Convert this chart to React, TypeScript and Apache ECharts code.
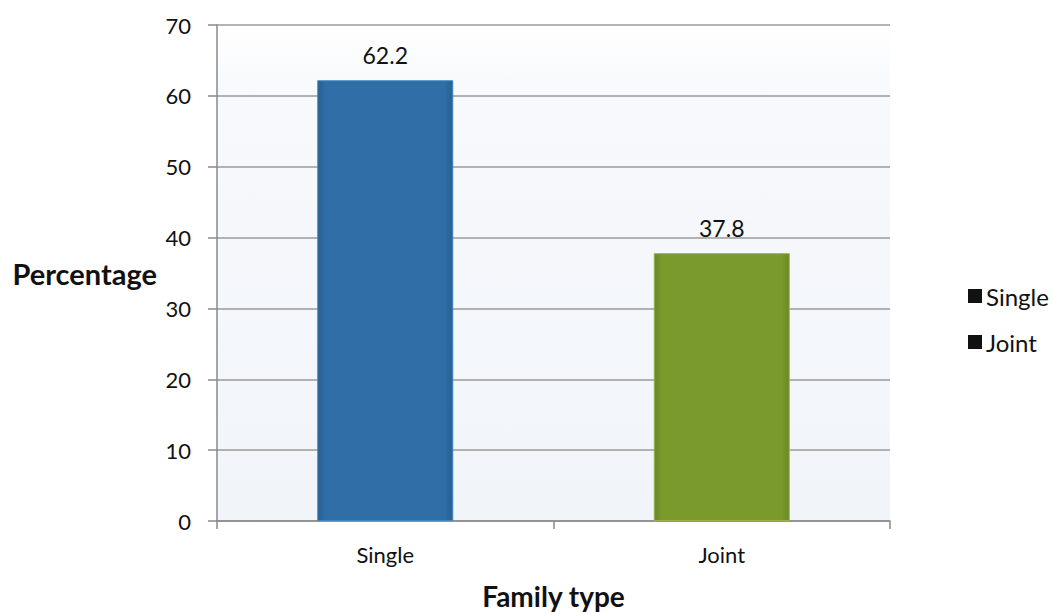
import React, { useEffect, useRef } from "react";
import * as echarts from "echarts";

const categories = ["Single", "Joint"];
const seriesNames = ["Single", "Joint"];
const singleValues: (number | string)[] = [62.2, "-"];
const jointValues: (number | string)[] = ["-", 37.8];
const yTicks = { min: 0, max: 70, interval: 10 };

const FONT = "Lato, 'Open Sans', sans-serif";

export default function App() {
  const ref = useRef<HTMLDivElement>(null);

  useEffect(() => {
    if (!ref.current) return;
    const chart = echarts.init(ref.current, null, { renderer: "svg" });

    const barStyle = (top: string, mid: string, edge: string) => ({
      color: new echarts.graphic.LinearGradient(0, 0, 1, 0, [
        { offset: 0, color: edge },
        { offset: 0.06, color: mid },
        { offset: 0.94, color: mid },
        { offset: 1, color: edge },
      ]),
      borderColor: top,
      borderWidth: 1,
    });

    const dataLabel = {
      show: true,
      position: "top",
      distance: 14,
      fontFamily: FONT,
      fontSize: 23,
      color: "#111",
    };

    chart.setOption({
      animation: false,
      backgroundColor: "#ffffff",
      textStyle: { fontFamily: FONT },
      grid: {
        left: 217,
        right: 164,
        top: 25,
        bottom: 91,
        containLabel: false,
        outerBoundsMode: "none",
        show: true,
        borderWidth: 0,
        backgroundColor: new echarts.graphic.LinearGradient(0, 0, 0, 1, [
          { offset: 0, color: "#ffffff" },
          { offset: 0.14, color: "#f7f9fc" },
          { offset: 1, color: "#f1f5fa" },
        ]),
      },
      legend: {
        orient: "vertical",
        left: 963,
        top: 279,
        itemWidth: 14,
        itemHeight: 14,
        itemGap: 22,
        icon: "rect",
        data: seriesNames.map((n) => ({ name: n, itemStyle: { color: "#111111", borderWidth: 0 } })),
        textStyle: { fontFamily: FONT, fontSize: 24, color: "#111", padding: [0, 0, 0, -1] },
      },
      xAxis: {
        type: "category",
        data: categories,
        name: "Family type",
        nameLocation: "middle",
        nameGap: 61,
        nameTextStyle: { fontFamily: FONT, fontSize: 28, fontWeight: "bold", color: "#111" },
        axisLine: { lineStyle: { color: "#8a8a8a", width: 1.5 } },
        axisTick: { show: true, length: 8, lineStyle: { color: "#8a8a8a", width: 1.5 } },
        axisLabel: { fontFamily: FONT, fontSize: 22, color: "#111", margin: 22 },
      },
      yAxis: {
        type: "value",
        min: yTicks.min,
        max: yTicks.max,
        interval: yTicks.interval,
        name: "Percentage",
        nameLocation: "middle",
        nameRotate: 0,
        nameGap: 60,
        nameTextStyle: { fontFamily: FONT, fontSize: 29, fontWeight: "bold", color: "#111" },
        axisLine: { show: true, lineStyle: { color: "#8a8a8a", width: 1.5 } },
        axisTick: { show: true, length: 9, lineStyle: { color: "#8a8a8a", width: 1.5 } },
        axisLabel: { fontFamily: FONT, fontSize: 22, color: "#111", margin: 26 },
        splitLine: { lineStyle: { color: "#9a9a9a", width: 1.5 } },
      },
      series: [
        {
          name: seriesNames[0],
          type: "bar",
          data: singleValues,
          barWidth: 136,
          barGap: "-100%",
          itemStyle: barStyle("#3f86c2", "#2f6ea6", "#285f90"),
          label: dataLabel,
        },
        {
          name: seriesNames[1],
          type: "bar",
          data: jointValues,
          barWidth: 136,
          barGap: "-100%",
          itemStyle: barStyle("#97b545", "#7a9a2c", "#6a8824"),
          label: dataLabel,
        },
      ],
    });

    return () => chart.dispose();
  }, []);

  return (
    <div
      ref={ref}
      style={{ position: "fixed", left: 0, top: 0, width: 1054, height: 612 }}
    />
  );
}
